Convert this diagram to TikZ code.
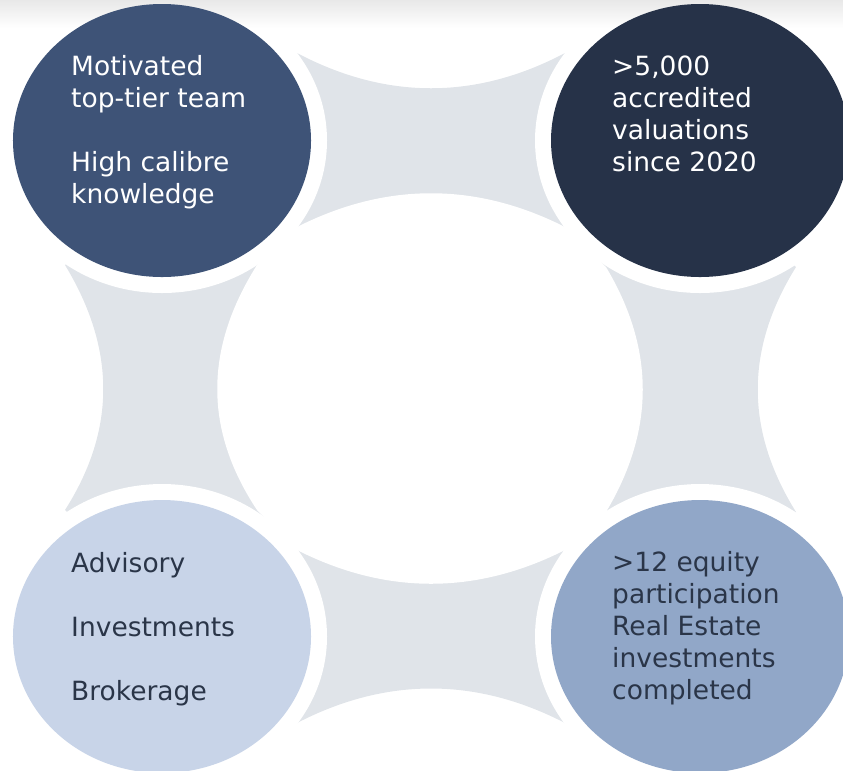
\documentclass[tikz,border=0pt]{standalone}
\usepackage{fontspec}
\setmainfont{DejaVu Sans}
\usetikzlibrary{positioning,shapes.geometric}
\definecolor{slateblue}{HTML}{3E5377}
\definecolor{inkblue}{HTML}{263248}
\definecolor{paleblue}{HTML}{C8D4E8}
\definecolor{steelblue}{HTML}{91A7C8}
\definecolor{panelgray}{HTML}{E0E4E9}
\definecolor{textnavy}{HTML}{2A3548}

\begin{document}
\begin{tikzpicture}[x=0.03cm ,y=-0.03cm ,node distance = 14.88cm and 16.14cm ,on grid ,bubble/.style ={ ellipse ,draw=none ,inner sep=0pt ,minimum width =8.94cm ,minimum height =8.19cm} ,blurb/.style ={anchor=north west ,inner sep=0pt ,align=left ,font=\fontsize{22.6}{27.3}\selectfont}]
\useasboundingbox (0,0) rectangle (843,770);
% gray panel with concave sides, white hole in the middle
\fill[panelgray] (297,53) .. controls (386,100) and (476,100) .. (565,53)
  -- (796,267) .. controls (745,349) and (745,430) .. (796,512)
  -- (565,723) .. controls (476,677) and (386,677) .. (297,723)
  -- (65,510) .. controls (116,430) and (116,349) .. (65,265) -- cycle;
\fill[white] (297,227) .. controls (386,182) and (476,182) .. (565,227)
  -- (606,267) .. controls (655,349) and (655,430) .. (606,512)
  -- (565,550) .. controls (476,595) and (386,595) .. (297,550)
  -- (257,510) .. controls (204,430) and (204,349) .. (257,265) -- cycle;
\coordinate (tlc) at (162,140.5);
\coordinate[right = of tlc] (trc);
\coordinate[below = of tlc] (blc);
\coordinate[below = of trc] (brc);
% white gap round each circle
\foreach \c in {tlc,trc,blc,brc}
  \fill[white] (\c) ellipse [x radius=165, y radius=152.5];
% soft shade along the top edge
\fill[top color=black!9, bottom color=white] (0,0) rectangle (843,28);
\node[bubble, fill=slateblue] (tl) at (tlc) {};
\node[bubble, fill=inkblue] (tr) at (trc) {};
\node[bubble, fill=paleblue] (bl) at (blc) {};
\node[bubble, fill=steelblue] (br) at (brc) {};
\node[blurb, text=white] (tlText) at (71,55) {Motivated\\top-tier team\\[27.3pt]High calibre\\knowledge};
\node[blurb, text=white] (trText) at (612,56) {>5,000\\accredited\\valuations\\since 2020};
\node[blurb, text=textnavy] (blText) at (71,552) {Advisory\\[27.3pt]Investments\\[27.3pt]Brokerage};
\node[blurb, text=textnavy] (brText) at (612,551) {>12 equity\\participation\\Real Estate\\investments\\completed};
\end{tikzpicture}
\end{document}
